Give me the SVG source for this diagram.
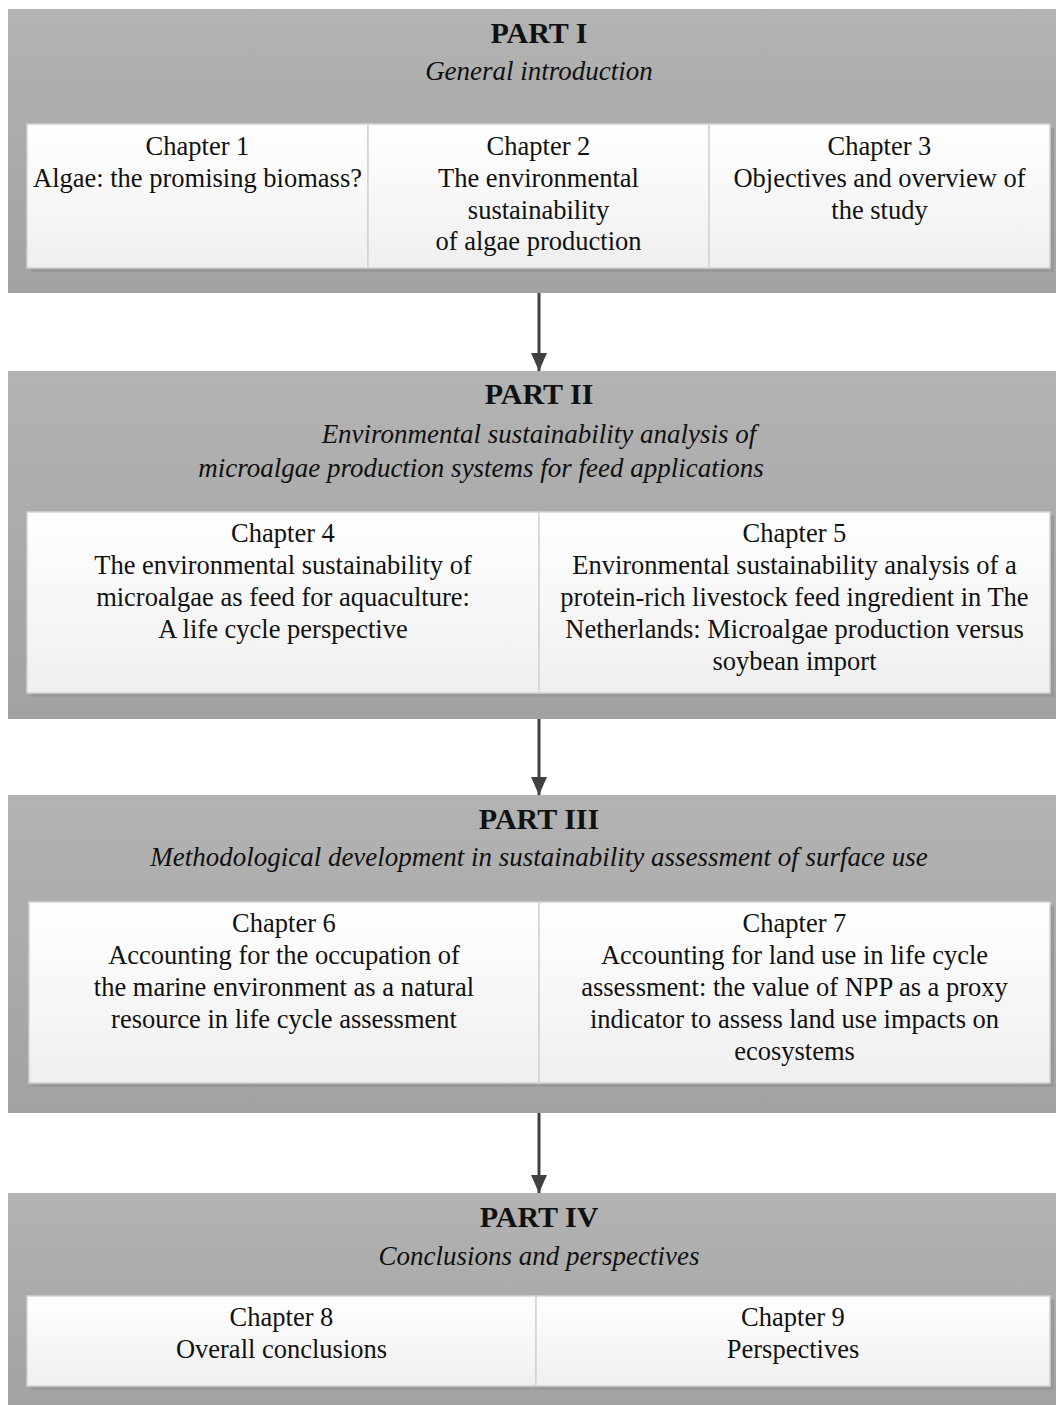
<svg xmlns="http://www.w3.org/2000/svg" width="1056" height="1405" viewBox="0 0 1056 1405">
  <defs>
    <linearGradient id="panelFill" x1="0" y1="0" x2="0" y2="1">
      <stop offset="0" stop-color="#b3b3b3"/>
      <stop offset="1" stop-color="#a2a2a2"/>
    </linearGradient>
    <linearGradient id="cellFill" x1="0" y1="0" x2="0" y2="1">
      <stop offset="0" stop-color="#ffffff"/>
      <stop offset="1" stop-color="#efefef"/>
    </linearGradient>
    <marker id="arrowHead" viewBox="0 0 18 16" refX="18" refY="8" markerWidth="18" markerHeight="16" markerUnits="userSpaceOnUse" orient="auto">
      <path d="M0 0 L18 8 L0 16 Z" fill="#404040"/>
    </marker>
  </defs>
  <style>
    .panel { fill: url(#panelFill); }
    .shadow { fill: #999999; }
    .cell { fill: url(#cellFill); stroke: #d2d2d2; stroke-width: 1.5; }
    .part { font-family: "Liberation Serif", "DejaVu Serif", serif; font-weight: bold; font-size: 30px; fill: #111; text-anchor: middle; }
    .sub { font-family: "Liberation Serif", "DejaVu Serif", serif; font-style: italic; font-size: 27px; fill: #111; text-anchor: middle; }
    .txt { font-family: "Liberation Serif", "DejaVu Serif", serif; font-size: 26.5px; fill: #111; text-anchor: middle; }
    .conn { stroke: #404040; stroke-width: 3; fill: none; }
  </style>

  <!-- Part I -->
  <g id="part1">
    <rect class="panel" x="8" y="9" width="1048" height="284"/>
    <text class="part" x="539" y="43">PART I</text>
    <text class="sub" x="539" y="80">General introduction</text>
    <rect class="shadow" x="31" y="128" width="1023" height="144"/>
    <g id="chapter1">
      <rect class="cell" x="27" y="124" width="341" height="144"/>
      <text class="txt" x="197.5" y="155">Chapter 1</text>
      <text class="txt" x="197.5" y="187">Algae: the promising biomass?</text>
    </g>
    <g id="chapter2">
      <rect class="cell" x="368" y="124" width="341" height="144"/>
      <text class="txt" x="538.5" y="155">Chapter 2</text>
      <text class="txt" x="538.5" y="187">The environmental</text>
      <text class="txt" x="538.5" y="219">sustainability</text>
      <text class="txt" x="538.5" y="250">of algae production</text>
    </g>
    <g id="chapter3">
      <rect class="cell" x="709" y="124" width="341" height="144"/>
      <text class="txt" x="879.5" y="155">Chapter 3</text>
      <text class="txt" x="879.5" y="187">Objectives and overview of</text>
      <text class="txt" x="879.5" y="219">the study</text>
    </g>
  </g>

  <!-- Part II -->
  <g id="part2">
    <rect class="panel" x="8" y="371" width="1048" height="348"/>
    <text class="part" x="539" y="404">PART II</text>
    <text class="sub" x="539" y="443">Environmental sustainability analysis of</text>
    <text class="sub" x="481" y="477">microalgae production systems for feed applications</text>
    <rect class="shadow" x="31" y="516" width="1023" height="181"/>
    <g id="chapter4">
      <rect class="cell" x="27" y="512" width="512" height="181"/>
      <text class="txt" x="283" y="542">Chapter 4</text>
      <text class="txt" x="283" y="574">The environmental sustainability of</text>
      <text class="txt" x="283" y="606">microalgae as feed for aquaculture:</text>
      <text class="txt" x="283" y="638">A life cycle perspective</text>
    </g>
    <g id="chapter5">
      <rect class="cell" x="539" y="512" width="511" height="181"/>
      <text class="txt" x="794.5" y="542">Chapter 5</text>
      <text class="txt" x="794.5" y="574">Environmental sustainability analysis of a</text>
      <text class="txt" x="794.5" y="606">protein-rich livestock feed ingredient in The</text>
      <text class="txt" x="794.5" y="638">Netherlands: Microalgae production versus</text>
      <text class="txt" x="794.5" y="670">soybean import</text>
    </g>
  </g>

  <!-- Part III -->
  <g id="part3">
    <rect class="panel" x="8" y="795" width="1048" height="318"/>
    <text class="part" x="539" y="829">PART III</text>
    <text class="sub" x="539" y="866">Methodological development in sustainability assessment of surface use</text>
    <rect class="shadow" x="33" y="906" width="1021" height="181"/>
    <g id="chapter6">
      <rect class="cell" x="29" y="902" width="510" height="181"/>
      <text class="txt" x="284" y="932">Chapter 6</text>
      <text class="txt" x="284" y="964">Accounting for the occupation of</text>
      <text class="txt" x="284" y="996">the marine environment as a natural</text>
      <text class="txt" x="284" y="1028">resource in life cycle assessment</text>
    </g>
    <g id="chapter7">
      <rect class="cell" x="539" y="902" width="511" height="181"/>
      <text class="txt" x="794.5" y="932">Chapter 7</text>
      <text class="txt" x="794.5" y="964">Accounting for land use in life cycle</text>
      <text class="txt" x="794.5" y="996">assessment: the value of NPP as a proxy</text>
      <text class="txt" x="794.5" y="1028">indicator to assess land use impacts on</text>
      <text class="txt" x="794.5" y="1060">ecosystems</text>
    </g>
  </g>

  <!-- Part IV -->
  <g id="part4">
    <rect class="panel" x="8" y="1193" width="1048" height="212"/>
    <text class="part" x="539" y="1227">PART IV</text>
    <text class="sub" x="539" y="1265">Conclusions and perspectives</text>
    <rect class="shadow" x="31" y="1300" width="1023" height="90"/>
    <g id="chapter8">
      <rect class="cell" x="27" y="1296" width="509" height="90"/>
      <text class="txt" x="281.5" y="1326">Chapter 8</text>
      <text class="txt" x="281.5" y="1358">Overall conclusions</text>
    </g>
    <g id="chapter9">
      <rect class="cell" x="536" y="1296" width="514" height="90"/>
      <text class="txt" x="793" y="1326">Chapter 9</text>
      <text class="txt" x="793" y="1358">Perspectives</text>
    </g>
  </g>

  <!-- Connectors between parts -->
  <g id="connectors">
    <line class="conn" x1="539" y1="293" x2="539" y2="371" marker-end="url(#arrowHead)"/>
    <line class="conn" x1="539" y1="719" x2="539" y2="795" marker-end="url(#arrowHead)"/>
    <line class="conn" x1="539" y1="1113" x2="539" y2="1193" marker-end="url(#arrowHead)"/>
  </g>
</svg>
